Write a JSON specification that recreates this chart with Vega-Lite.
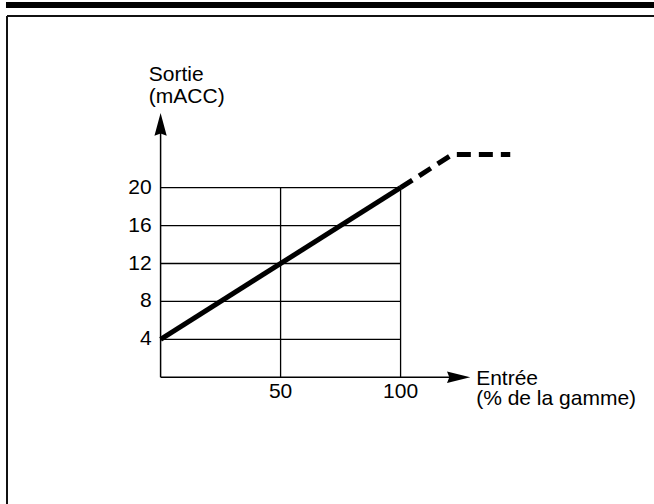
{
  "$schema": "https://vega.github.io/schema/vega-lite/v6.json",
  "width": 647,
  "height": 488,
  "autosize": {"type": "none"},
  "padding": {"left": 7, "top": 16, "right": 0, "bottom": 0},
  "background": "white",
  "config": {"view": {"stroke": null}, "text": {"font": "Liberation Sans", "fontSize": 21, "color": "black"}},
  "encoding": {
    "x": {"field": "x", "type": "quantitative", "scale": {"domain": [-64, 205.6], "nice": false, "zero": false}, "axis": null},
    "y": {"field": "y", "type": "quantitative", "scale": {"domain": [-13.38, 38.12], "nice": false, "zero": false}, "axis": null}
  },
  "layer": [
    {
      "data": {"values": [{"x": -64.42, "x2": 205.6, "y": 39.28}]},
      "mark": {"type": "rule", "strokeWidth": 6, "color": "black", "clip": false},
      "encoding": {"x2": {"field": "x2"}}
    },
    {
      "data": {"values": [
        {"x": -64, "x2": -64, "y": -13.38, "y2": 38.12},
        {"x": -64, "x2": 205.6, "y": 38.12, "y2": 38.12}
      ]},
      "mark": {"type": "rule", "strokeWidth": 2, "color": "#111", "clip": false},
      "encoding": {"x2": {"field": "x2"}, "y2": {"field": "y2"}}
    },
    {
      "data": {"values": [
        {"x": 0, "x2": 100, "y": 4, "y2": 4},
        {"x": 0, "x2": 100, "y": 8, "y2": 8},
        {"x": 0, "x2": 100, "y": 12, "y2": 12},
        {"x": 0, "x2": 100, "y": 16, "y2": 16},
        {"x": 0, "x2": 100, "y": 20, "y2": 20},
        {"x": 50, "x2": 50, "y": 0, "y2": 20},
        {"x": 100, "x2": 100, "y": 0, "y2": 20}
      ]},
      "mark": {"type": "rule", "strokeWidth": 1.3, "color": "black"},
      "encoding": {"x2": {"field": "x2"}, "y2": {"field": "y2"}}
    },
    {
      "data": {"values": [
        {"x": 0, "x2": 124, "y": 0, "y2": 0},
        {"x": 0, "x2": 0, "y": 0, "y2": 26.7}
      ]},
      "mark": {"type": "rule", "strokeWidth": 1.5, "color": "black"},
      "encoding": {"x2": {"field": "x2"}, "y2": {"field": "y2"}}
    },
    {
      "data": {"values": [{"x": 0, "y": 26.69}]},
      "mark": {"type": "point", "shape": "M0,-1L0.54,1L0,0.8L-0.54,1Z", "size": 515, "filled": true, "color": "black", "opacity": 1, "strokeWidth": 0}
    },
    {
      "data": {"values": [{"x": 124.19, "y": 0}]},
      "mark": {"type": "point", "shape": "M0,-1L0.5,1L0,0.8L-0.5,1Z", "size": 540, "angle": 90, "filled": true, "color": "black", "opacity": 1, "strokeWidth": 0}
    },
    {
      "data": {"values": [{"x": 0, "y": 4}, {"x": 100, "y": 20}]},
      "mark": {"type": "line", "strokeWidth": 5, "color": "black", "strokeCap": "butt"}
    },
    {
      "data": {"values": [{"x": 100, "y": 20}, {"x": 121.5, "y": 23.5}, {"x": 145.7, "y": 23.5}]},
      "mark": {"type": "line", "strokeWidth": 5, "color": "black", "strokeCap": "butt", "strokeDash": [14, 8]}
    },
    {
      "data": {"values": [
        {"x": 0, "y": 4, "label": "4"},
        {"x": 0, "y": 8, "label": "8"},
        {"x": 0, "y": 12, "label": "12"},
        {"x": 0, "y": 16, "label": "16"},
        {"x": 0, "y": 20, "label": "20"}
      ]},
      "mark": {"type": "text", "align": "right", "baseline": "middle", "dx": -9},
      "encoding": {"text": {"field": "label"}}
    },
    {
      "data": {"values": [
        {"x": 50, "y": 0, "label": "50"},
        {"x": 100, "y": 0, "label": "100"}
      ]},
      "mark": {"type": "text", "align": "center", "baseline": "alphabetic", "dy": 21},
      "encoding": {"text": {"field": "label"}}
    },
    {
      "data": {"values": [
        {"x": -4.9, "y": 31.25, "label": "Sortie\n(mACC)"}
      ]},
      "mark": {"type": "text", "align": "left", "baseline": "alphabetic", "lineBreak": "\n", "lineHeight": 21.7},
      "encoding": {"text": {"field": "label"}}
    },
    {
      "data": {"values": [
        {"x": 131.5, "y": -0.77, "label": "Entrée\n(% de la gamme)"}
      ]},
      "mark": {"type": "text", "align": "left", "baseline": "alphabetic", "lineBreak": "\n", "lineHeight": 20},
      "encoding": {"text": {"field": "label"}}
    }
  ]
}
